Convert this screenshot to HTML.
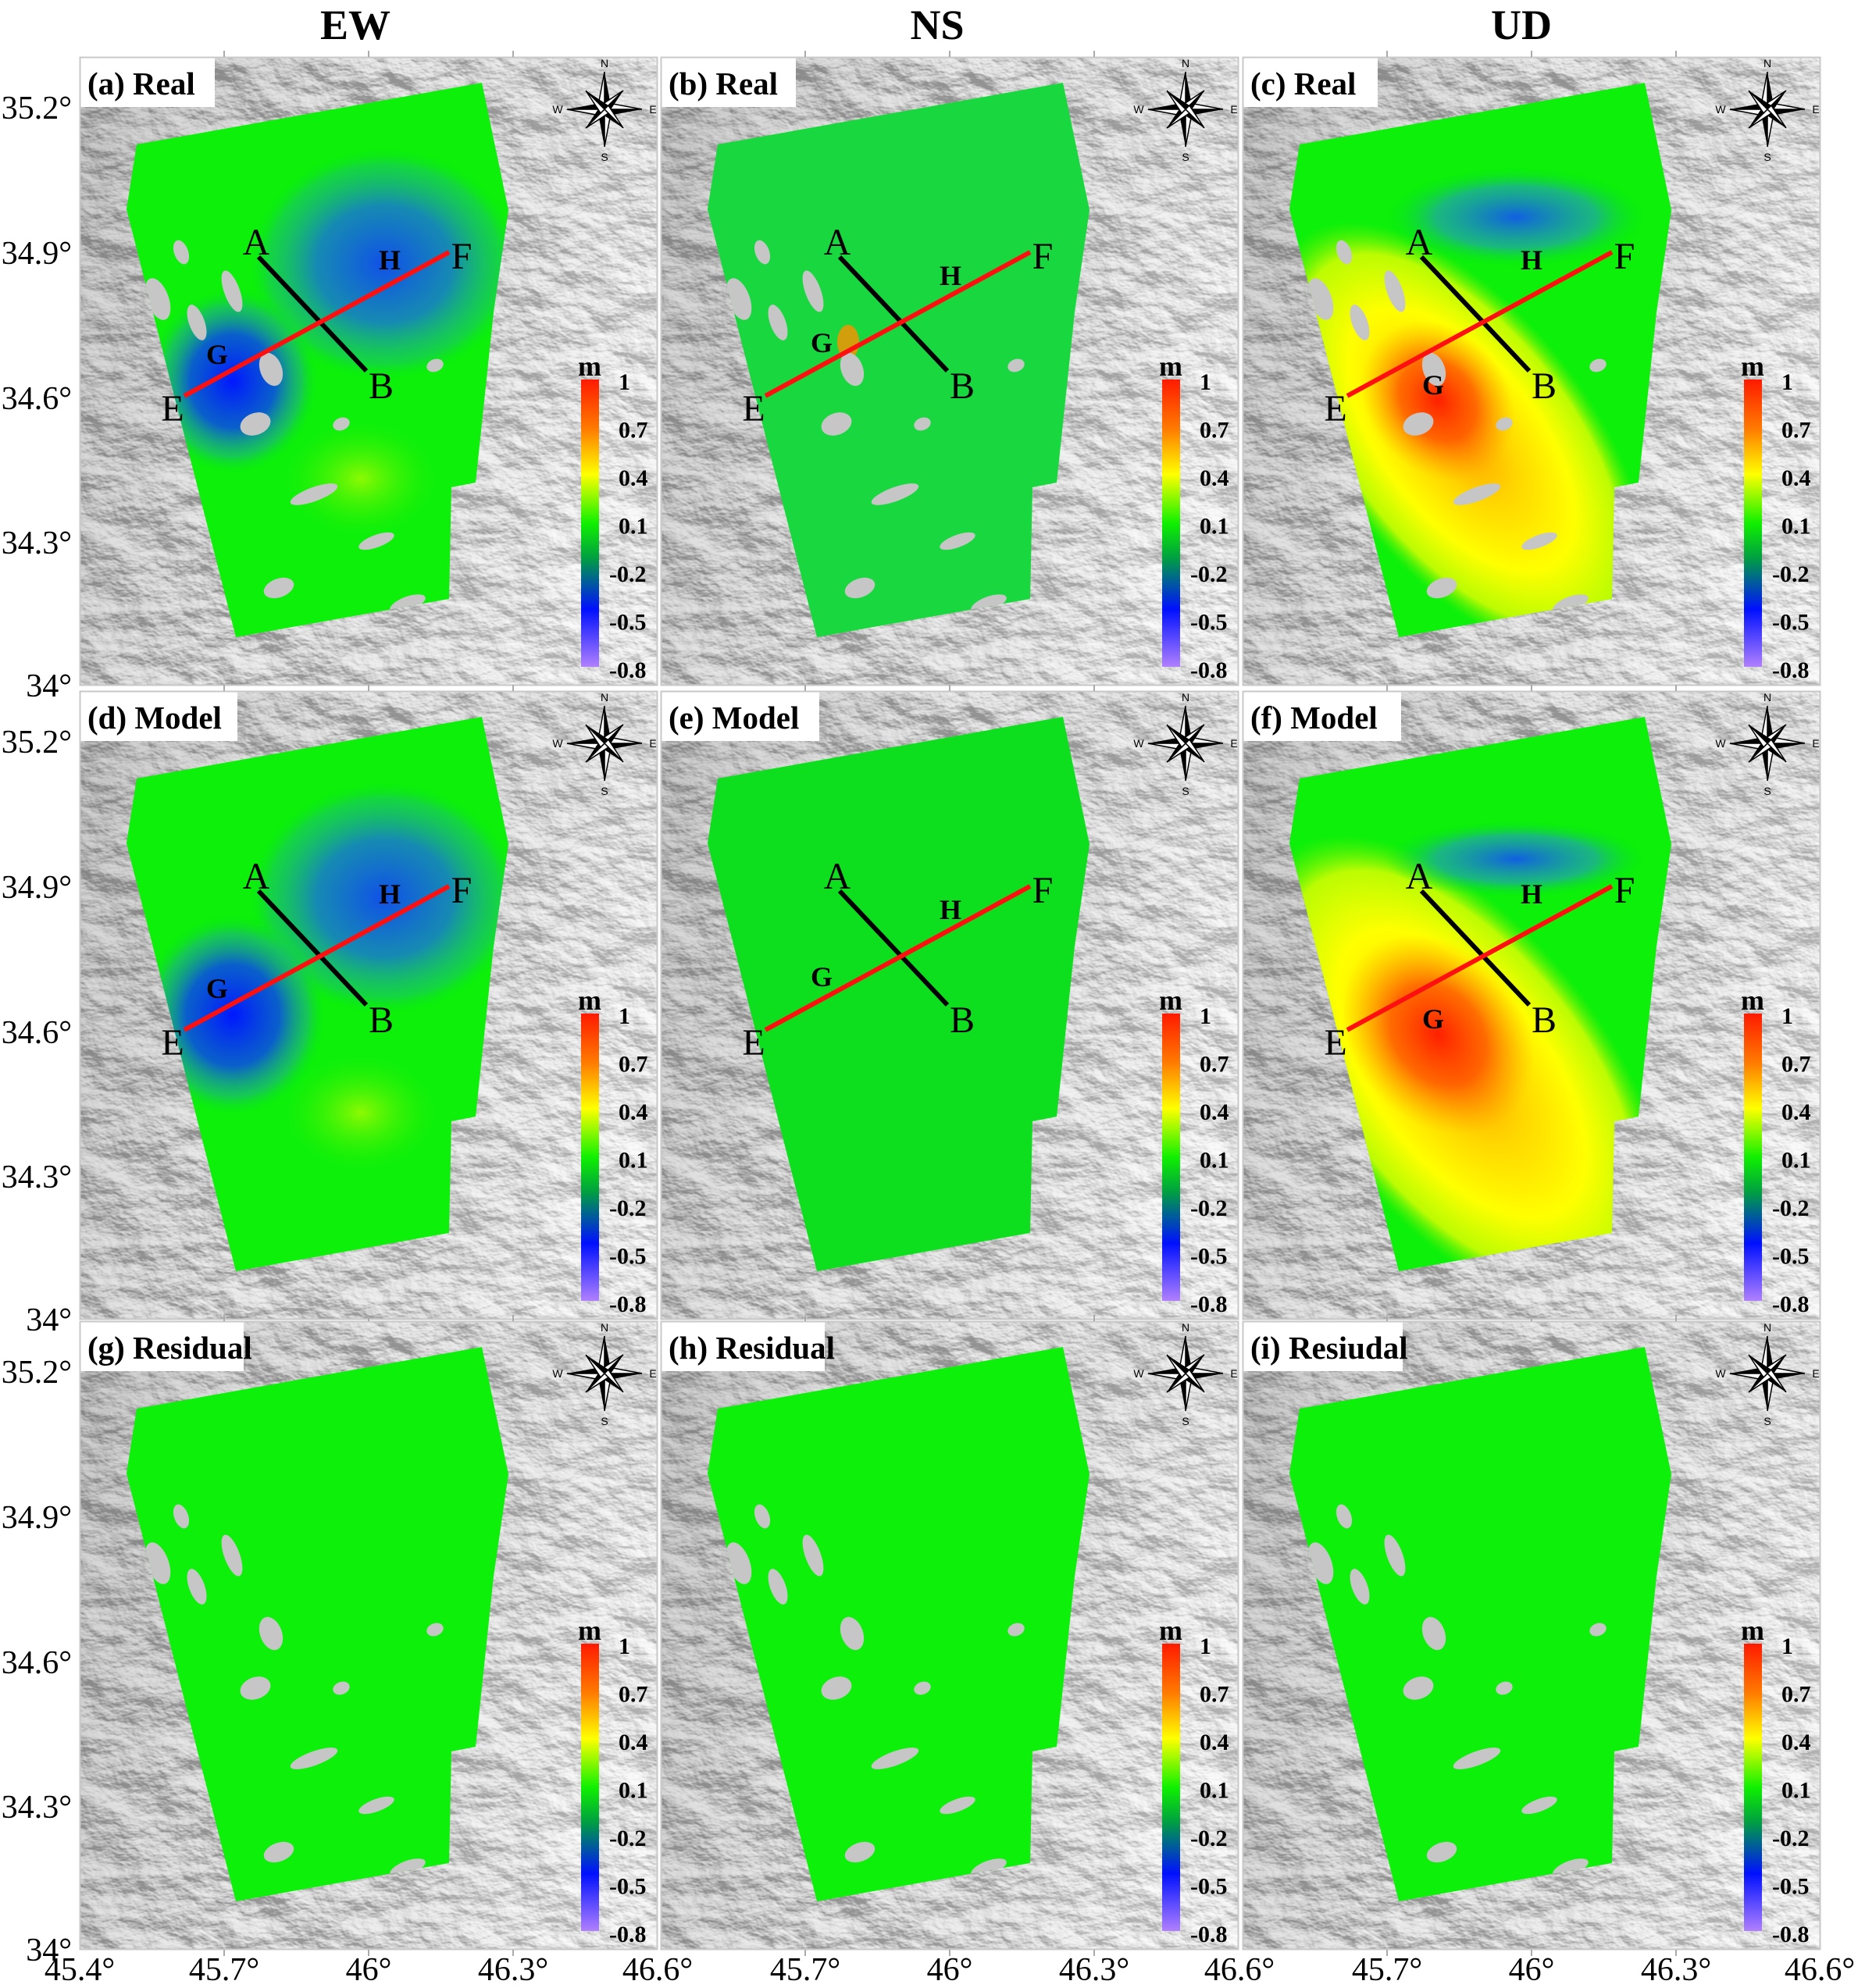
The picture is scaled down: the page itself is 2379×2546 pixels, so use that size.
<!DOCTYPE html>
<html><head><meta charset="utf-8">
<style>
html,body{margin:0;padding:0;background:#fff;}
svg{display:block;}
text{font-family:"Liberation Serif",serif;}
</style></head>
<body>
<svg id="s" width="2379" height="2546" viewBox="0 0 2379 2546" xmlns="http://www.w3.org/2000/svg"></svg>
<script>
const cols=[102,846,1591], rows=[73,885,1692], W=740, H=805;
const poly="73,112 515,33 549,196 530,327 507,545 476,551 473,694 200,743 60,195";
let s='';
s+=`<defs>
<filter id="hill" x="0" y="0" width="1" height="1">
<feTurbulence type="fractalNoise" baseFrequency="0.014 0.022" numOctaves="5" seed="3" result="n"/>
<feDiffuseLighting in="n" surfaceScale="14" lighting-color="#ffffff" result="l"><feDistantLight azimuth="300" elevation="35"/></feDiffuseLighting>
<feColorMatrix type="matrix" values="0.66 0 0 0 0.3  0.66 0 0 0 0.3  0.66 0 0 0 0.3  0 0 0 0 1"/>
</filter>
<linearGradient id="shade" x1="0" y1="0" x2="1" y2="0.3">
<stop offset="0" stop-color="#555" stop-opacity="0.28"/><stop offset="0.5" stop-color="#777" stop-opacity="0.08"/><stop offset="1" stop-color="#fff" stop-opacity="0.25"/></linearGradient>
<linearGradient id="cb" x1="0" y1="0" x2="0" y2="1">
<stop offset="0" stop-color="#ff1a00"/><stop offset="0.17" stop-color="#ff7a00"/><stop offset="0.33" stop-color="#ffff00"/>
<stop offset="0.5" stop-color="#10f000"/><stop offset="0.62" stop-color="#00a040"/><stop offset="0.8" stop-color="#0010ff"/><stop offset="1" stop-color="#b080ff"/></linearGradient>
<radialGradient id="blueG"><stop offset="0" stop-color="#0018ff"/><stop offset="0.5" stop-color="#0a50e0" stop-opacity="0.9"/><stop offset="0.8" stop-color="#20a0a0" stop-opacity="0.5"/><stop offset="1" stop-color="#00f000" stop-opacity="0"/></radialGradient>
<radialGradient id="blueH"><stop offset="0" stop-color="#1050e8"/><stop offset="0.5" stop-color="#1878d0" stop-opacity="0.85"/><stop offset="0.85" stop-color="#20b090" stop-opacity="0.4"/><stop offset="1" stop-color="#00f000" stop-opacity="0"/></radialGradient>
<radialGradient id="yel"><stop offset="0" stop-color="#d8ff00" stop-opacity="0.9"/><stop offset="1" stop-color="#40f000" stop-opacity="0"/></radialGradient>
<radialGradient id="ud"><stop offset="0" stop-color="#ffa000"/><stop offset="0.3" stop-color="#ffd800"/><stop offset="0.6" stop-color="#ffff00"/><stop offset="0.85" stop-color="#e8ff00" stop-opacity="0.8"/><stop offset="1" stop-color="#80f000" stop-opacity="0"/></radialGradient>
<radialGradient id="red"><stop offset="0" stop-color="#ff2000"/><stop offset="0.5" stop-color="#ff5000" stop-opacity="0.8"/><stop offset="1" stop-color="#ffa000" stop-opacity="0"/></radialGradient>
<radialGradient id="udb"><stop offset="0" stop-color="#1060e0"/><stop offset="0.6" stop-color="#20a0b0" stop-opacity="0.7"/><stop offset="1" stop-color="#00f000" stop-opacity="0"/></radialGradient>
<clipPath id="cp"><polygon points="${poly}"/></clipPath>
</defs>`;
const gray=[[100,310,14,28],[150,340,10,24],[195,300,10,28],[245,400,14,22],[225,470,20,14],[300,560,32,9],[380,620,24,8],[255,680,20,12],[335,470,11,8],[455,395,11,8],[420,700,24,9],[130,250,9,16]];
const labels=[["(a) Real","(b) Real","(c) Real"],["(d) Model","(e) Model","(f) Model"],["(g) Residual","(h) Residual","(i) Resiudal"]];
const boxW=[[173,173,173],[202,203,203],[210,210,205]];
const GH=[[[176,393],[397,272]],[[206,378],[371,292]],[[244,432],[370,272]]];
function compass(cx,cy){
 let o='';
 const arms=[[0,-48,9],[48,0,9],[0,48,9],[-48,0,9],[24,-24,7],[24,24,7],[-24,24,7],[-24,-24,7]];
 for(const [dx,dy,w] of arms){
  const L=Math.hypot(dx,dy), px=-dy/L*w, py=dx/L*w;
  o+=`<polygon points="${cx},${cy} ${cx+dx},${cy+dy} ${cx+px},${cy+py}" fill="#000"/>`;
  o+=`<polygon points="${cx},${cy} ${cx+dx},${cy+dy} ${cx-px},${cy-py}" fill="#fff" stroke="#000" stroke-width="1.5"/>`;
 }
 const f="font-family:'Liberation Sans',sans-serif";
 o+=`<text x="${cx}" y="${cy-54}" font-size="14" text-anchor="middle" style="${f}">N</text>`;
 o+=`<text x="${cx}" y="${cy+66}" font-size="14" text-anchor="middle" style="${f}">S</text>`;
 o+=`<text x="${cx-60}" y="${cy+5}" font-size="14" text-anchor="middle" style="${f}">W</text>`;
 o+=`<text x="${cx+62}" y="${cy+5}" font-size="14" text-anchor="middle" style="${f}">E</text>`;
 return o;
}
for(let r=0;r<3;r++)for(let c=0;c<3;c++){
 const x0=cols[c], y0=rows[r];
 let p=`<g transform="translate(${x0},${y0})">`;
 p+=`<rect width="${W}" height="${H}" filter="url(#hill)"/>`;
 p+=`<rect width="${W}" height="${H}" fill="url(#shade)"/>`;
 p+=`<polygon points="${poly}" fill="#0cf00a"/>`;
 p+=`<g clip-path="url(#cp)">`;
 if(r<2){
  if(c==0){
   p+=`<ellipse cx="390" cy="265" rx="175" ry="150" fill="url(#blueH)"/>`;
   p+=`<ellipse cx="196" cy="415" rx="${r==1?120:110}" ry="${r==1?130:120}" fill="url(#blueG)"/>`;
   p+=`<ellipse cx="360" cy="540" rx="100" ry="75" fill="url(#yel)" opacity="0.7"/>`;
  } else if(c==1){
   if(r==0){p+=`<polygon points="${poly}" fill="#2ab880" opacity="0.45"/>`;
    p+=`<ellipse cx="240" cy="365" rx="14" ry="22" fill="#ff9000" opacity="0.8"/>`;}
   else {p+=`<polygon points="${poly}" fill="#2050e0" opacity="0.1"/>`;}
  } else {
   p+=`<ellipse cx="280" cy="490" rx="${r==1?360:330}" ry="${r==1?185:165}" fill="url(#ud)" transform="rotate(52 280 490)"/>`;
   p+=`<ellipse cx="250" cy="440" rx="${r==1?140:110}" ry="${r==1?110:90}" fill="url(#red)" transform="rotate(50 250 440)"/>`;
   p+=`<ellipse cx="350" cy="${r==1?215:205}" rx="170" ry="${r==1?50:65}" fill="url(#udb)"/>`;
  }
 }
 if(!(r==1)){
  for(const [gx,gy,rx,ry] of gray){ p+=`<ellipse cx="${gx}" cy="${gy}" rx="${rx}" ry="${ry}" fill="#c6c6c6" transform="rotate(-20 ${gx} ${gy})"/>`; }
 }
 p+=`</g>`;
 if(r<2){
  p+=`<line x1="229" y1="256" x2="367" y2="402" stroke="#000" stroke-width="6"/>`;
  p+=`<line x1="134" y1="434" x2="473" y2="250" stroke="#ff1010" stroke-width="6"/>`;
  p+=`<text x="226" y="253" font-size="48" text-anchor="middle">A</text>`;
  p+=`<text x="386" y="437" font-size="48" text-anchor="middle">B</text>`;
  p+=`<text x="119" y="466" font-size="48" text-anchor="middle">E</text>`;
  p+=`<text x="489" y="271" font-size="48" text-anchor="middle">F</text>`;
  const g=GH[c];
  p+=`<text x="${g[0][0]}" y="${g[0][1]}" font-size="36" font-weight="bold" text-anchor="middle">G</text>`;
  p+=`<text x="${g[1][0]}" y="${g[1][1]}" font-size="36" font-weight="bold" text-anchor="middle">H</text>`;
 }
 p+=`<rect x="0" y="0" width="${boxW[r][c]}" height="64" fill="#fff"/>`;
 p+=`<text x="10" y="48" font-size="41" font-weight="bold">${labels[r][c]}</text>`;
 p+=compass(672,67);
 p+=`<rect x="642" y="413" width="23" height="368" fill="url(#cb)"/>`;
 p+=`<text x="653" y="408" font-size="36" font-weight="bold" text-anchor="middle">m</text>`;
 const cl=["1","0.7","0.4","0.1","-0.2","-0.5","-0.8"];
 cl.forEach((t,i)=>{p+=`<text x="${t[0]=='-'?678:690}" y="${426+i*61.5}" font-size="30" font-weight="bold">${t}</text>`;});
 p+=`<rect x="0.5" y="0.5" width="${W-1}" height="${H-1}" fill="none" stroke="#c8c8c8" stroke-width="2"/>`;
 p+=`</g>`;
 s+=p;
 for(let k=1;k<4;k++){s+=`<line x1="${x0+k*185}" y1="${y0-8}" x2="${x0+k*185}" y2="${y0}" stroke="#aaa" stroke-width="2"/><line x1="${x0+k*185}" y1="${y0+H}" x2="${x0+k*185}" y2="${y0+H+8}" stroke="#aaa" stroke-width="2"/>`;}
}
[["EW",455],["NS",1200],["UD",1948]].forEach(([t,x])=>{s+=`<text x="${x}" y="50" font-size="54" font-weight="bold" text-anchor="middle">${t}</text>`;});
const yl=["35.2°","34.9°","34.6°","34.3°","34°"], yo=[65,251,437,622,805];
for(let r=0;r<3;r++) yl.forEach((t,i)=>{s+=`<text x="92" y="${rows[r]+yo[i]+14}" font-size="42" text-anchor="end">${t}</text>`;});
const xl=[["45.4°",102],["45.7°",287],["46°",472],["46.3°",657],["46.6°",842],["45.7°",1031],["46°",1216],["46.3°",1401],["46.6°",1587],["45.7°",1776],["46°",1961],["46.3°",2146],["46.6°",2333]];
xl.forEach(([t,x])=>{s+=`<text x="${Math.min(x,2330)}" y="2536" font-size="42" text-anchor="middle">${t}</text>`;});
document.getElementById('s').innerHTML=s;
</script>
</body></html>
